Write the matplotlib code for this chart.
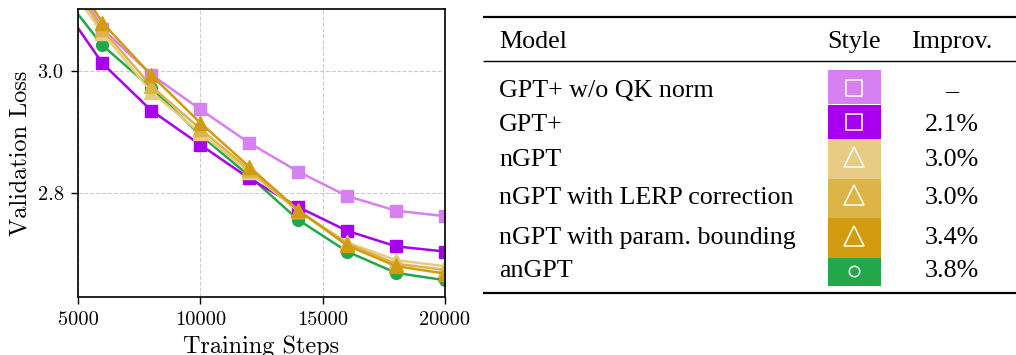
import matplotlib
matplotlib.use('Agg')
import matplotlib.pyplot as plt
from matplotlib.patches import Rectangle
from matplotlib.ticker import FormatStrFormatter

# ---------------- data ----------------
steps = [4000, 6000, 8000, 10000, 12000, 14000, 16000, 18000, 20000]
gpt_noqk   = [3.205, 3.069, 2.994, 2.937, 2.882, 2.835, 2.795, 2.771, 2.762]
gpt_plus   = [3.128, 3.0125, 2.935, 2.879, 2.824, 2.777, 2.738, 2.7125, 2.704]
ngpt       = [3.175, 3.062, 2.966, 2.898, 2.835, 2.770, 2.719, 2.690, 2.680]
ngpt_lerp  = [3.185, 3.068, 2.975, 2.905, 2.838, 2.771, 2.717, 2.684, 2.674]
ngpt_bound = [3.205, 3.079, 2.993, 2.915, 2.843, 2.772, 2.714, 2.680, 2.668]
angpt      = [3.144, 3.042, 2.972, 2.895, 2.828, 2.756, 2.704, 2.669, 2.657]

models = ["GPT+ w/o QK norm", "GPT+", "nGPT", "nGPT with LERP correction",
          "nGPT with param. bounding", "anGPT"]
improvements = ["\u2013", "2.1%", "3.0%", "3.0%", "3.4%", "3.8%"]
series = [gpt_noqk, gpt_plus, ngpt, ngpt_lerp, ngpt_bound, angpt]
colors = ['#D680F2', '#A700EE', '#E8CC85', '#DDB448', '#D29C11', '#20A84A']
markers = ['s', 's', '^', '^', '^', 'o']

x_ticks = [5000, 10000, 15000, 20000]
y_ticks = [2.8, 3.0]

plt.rcParams['font.family'] = 'cmr10'
plt.rcParams['mathtext.fontset'] = 'cm'
plt.rcParams['axes.unicode_minus'] = False

fig = plt.figure(figsize=(10.16, 3.55), dpi=100)
W, H = 1016, 355
ax = fig.add_axes([78 / W, 58 / H, 367 / W, 288 / H])

plot_order = [5, 0, 1, 2, 3, 4]
ms_map = {'s': 8.5, '^': 9.5, 'o': 8.5}
for i in plot_order:
    ax.plot(steps, series[i], color=colors[i], marker=markers[i],
            ms=ms_map[markers[i]], lw=1.8, mec=colors[i], label=models[i])

ax.set_xlim(5000, 20000)
ax.set_ylim(2.6295, 3.1016)
ax.set_xticks(x_ticks)
ax.set_yticks(y_ticks)
ax.yaxis.set_major_formatter(FormatStrFormatter('%.1f'))
ax.tick_params(axis='both', labelsize=14.7, direction='out', length=4.8, width=1)
ax.tick_params(axis='x', pad=5)
ax.tick_params(axis='y', pad=5.5)
ax.grid(True, color='#cccccc', linestyle='--', linewidth=0.8)
ax.set_axisbelow(True)
for s in ax.spines.values():
    s.set_linewidth(1.2)
ax.set_xlabel('Training Steps', fontsize=17.5, labelpad=5)
ax.set_ylabel('Validation Loss', fontsize=17.5, labelpad=4.5)

# ---------------- table ----------------
tab = fig.add_axes([0, 0, 1, 1])
tab.set_xlim(0, W)
tab.set_ylim(H, 0)
tab.axis('off')

tfont = dict(family='Liberation Serif', fontsize=18.7, color='black')
tab.plot([483, W], [17.3, 17.3], color='black', lw=1.6, solid_capstyle='butt')
tab.plot([483, W], [61, 61], color='black', lw=1.0, solid_capstyle='butt')
tab.plot([483, W], [293, 293], color='black', lw=1.6, solid_capstyle='butt')

tab.text(499, 47.7, "Model", ha='left', va='baseline', **tfont)
tab.text(854, 47.7, "Style", ha='center', va='baseline', **tfont)
tab.text(952, 47.7, "Improv.", ha='center', va='baseline', **tfont)

box_tops = [70, 105.3, 139.3, 178.7, 218, 258]
box_bots = [104, 138.7, 178.7, 218, 258, 286]
baselines = [96.7, 130.7, 165.7, 204.3, 244.3, 277.3]
mark_y = [87.5, 122.3, 157, 195.3, 235.5, 270.7]
box_ms = {'s': 12, '^': 14, 'o': 7.5}
for i in range(len(models)):
    tab.add_patch(Rectangle((828, box_tops[i]), 52.7, box_bots[i] - box_tops[i],
                            facecolor=colors[i], edgecolor='none'))
    tab.plot([854.3], [mark_y[i]], marker=markers[i], ms=box_ms[markers[i]],
             mfc='none', mec='white', mew=1.1, ls='none')
    tab.text(499, baselines[i], models[i], ha='left', va='baseline', **tfont)
    tab.text(952, baselines[i], improvements[i], ha='center', va='baseline', **tfont)

fig.savefig('out.png', dpi=100)
